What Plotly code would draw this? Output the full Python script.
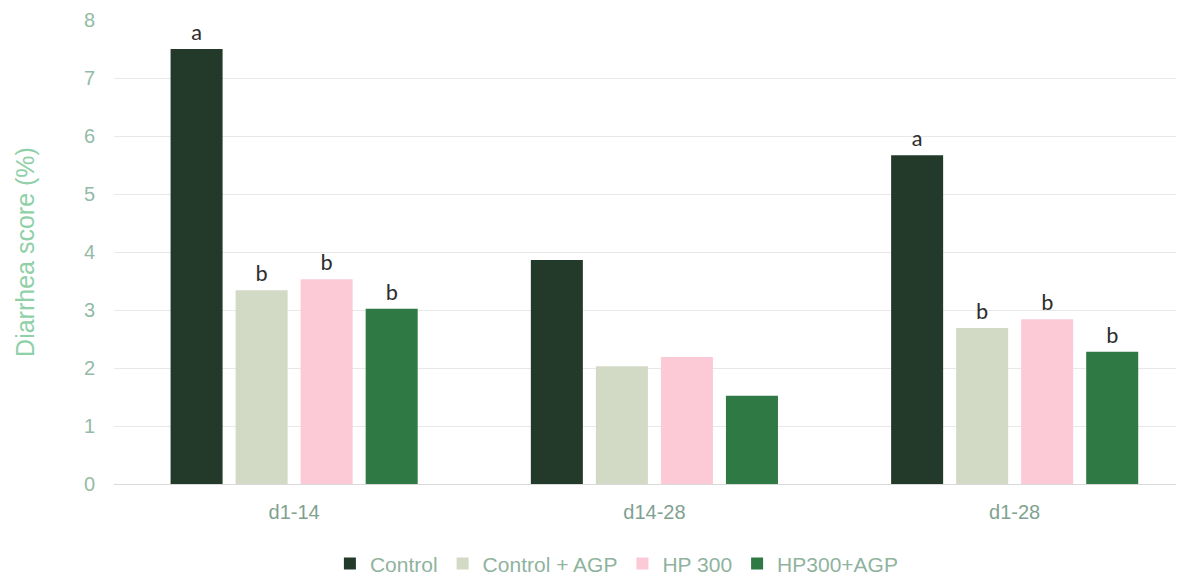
import plotly.graph_objects as go

categories = ["d1-14", "d14-28", "d1-28"]
series_names = ["Control", "Control + AGP", "HP 300", "HP300+AGP"]
control = [7.50, 3.86, 5.67]
control_agp = [3.34, 2.03, 2.69]
hp300 = [3.53, 2.19, 2.84]
hp300_agp = [3.02, 1.52, 2.28]
letters_control = ["a", "", "a"]
letters_control_agp = ["b", "", "b"]
letters_hp300 = ["b", "", "b"]
letters_hp300_agp = ["b", "", "b"]

colors = ["#233a2b", "#d2dac6", "#fccad6", "#2f7944"]
values = [control, control_agp, hp300, hp300_agp]
letters = [letters_control, letters_control_agp, letters_hp300, letters_hp300_agp]

fig = go.Figure()
for name, vals, col, lab in zip(series_names, values, colors, letters):
    fig.add_trace(go.Bar(
        x=categories, y=vals, name=name,
        marker=dict(color=col, line=dict(width=0)),
        text=lab, textposition="outside", cliponaxis=False,
        textfont=dict(family="Carlito, Liberation Sans, sans-serif", size=23, color="#2e2e2e"),
    ))

green_title = "#8fd0a8"
green_tick = "#93bba5"
fig.update_layout(
    width=1184, height=576,
    paper_bgcolor="white", plot_bgcolor="white",
    margin=dict(l=106, r=8, t=12, b=100, autoexpand=False),
    barmode="group", bargap=0.278, bargroupgap=0.2,
    font=dict(family="Liberation Sans, Arial, sans-serif"),
    showlegend=True,
    legend=dict(orientation="h", x=0.47, xanchor="center",
                yref="container", y=0.035, yanchor="middle",
                font=dict(size=21, color="#8fb39e"), itemwidth=30,
                traceorder="normal"),
)
fig.update_xaxes(
    range=[-0.5, 2.47], showgrid=False, showline=True, linecolor="#d9d9d9", linewidth=1,
    ticks="", tickfont=dict(size=20, color="#7fa290"), ticklabelstandoff=10,
)
fig.update_yaxes(
    range=[0, 8], dtick=1, showgrid=True, gridcolor="#e8e8e8", gridwidth=1,
    zeroline=False, showline=False, ticks="",
    tickfont=dict(size=20, color=green_tick), ticklabelstandoff=18,
    title=dict(text="Diarrhea score (%)", font=dict(size=25, color=green_title), standoff=42),
)
fig.write_html("out.html")
